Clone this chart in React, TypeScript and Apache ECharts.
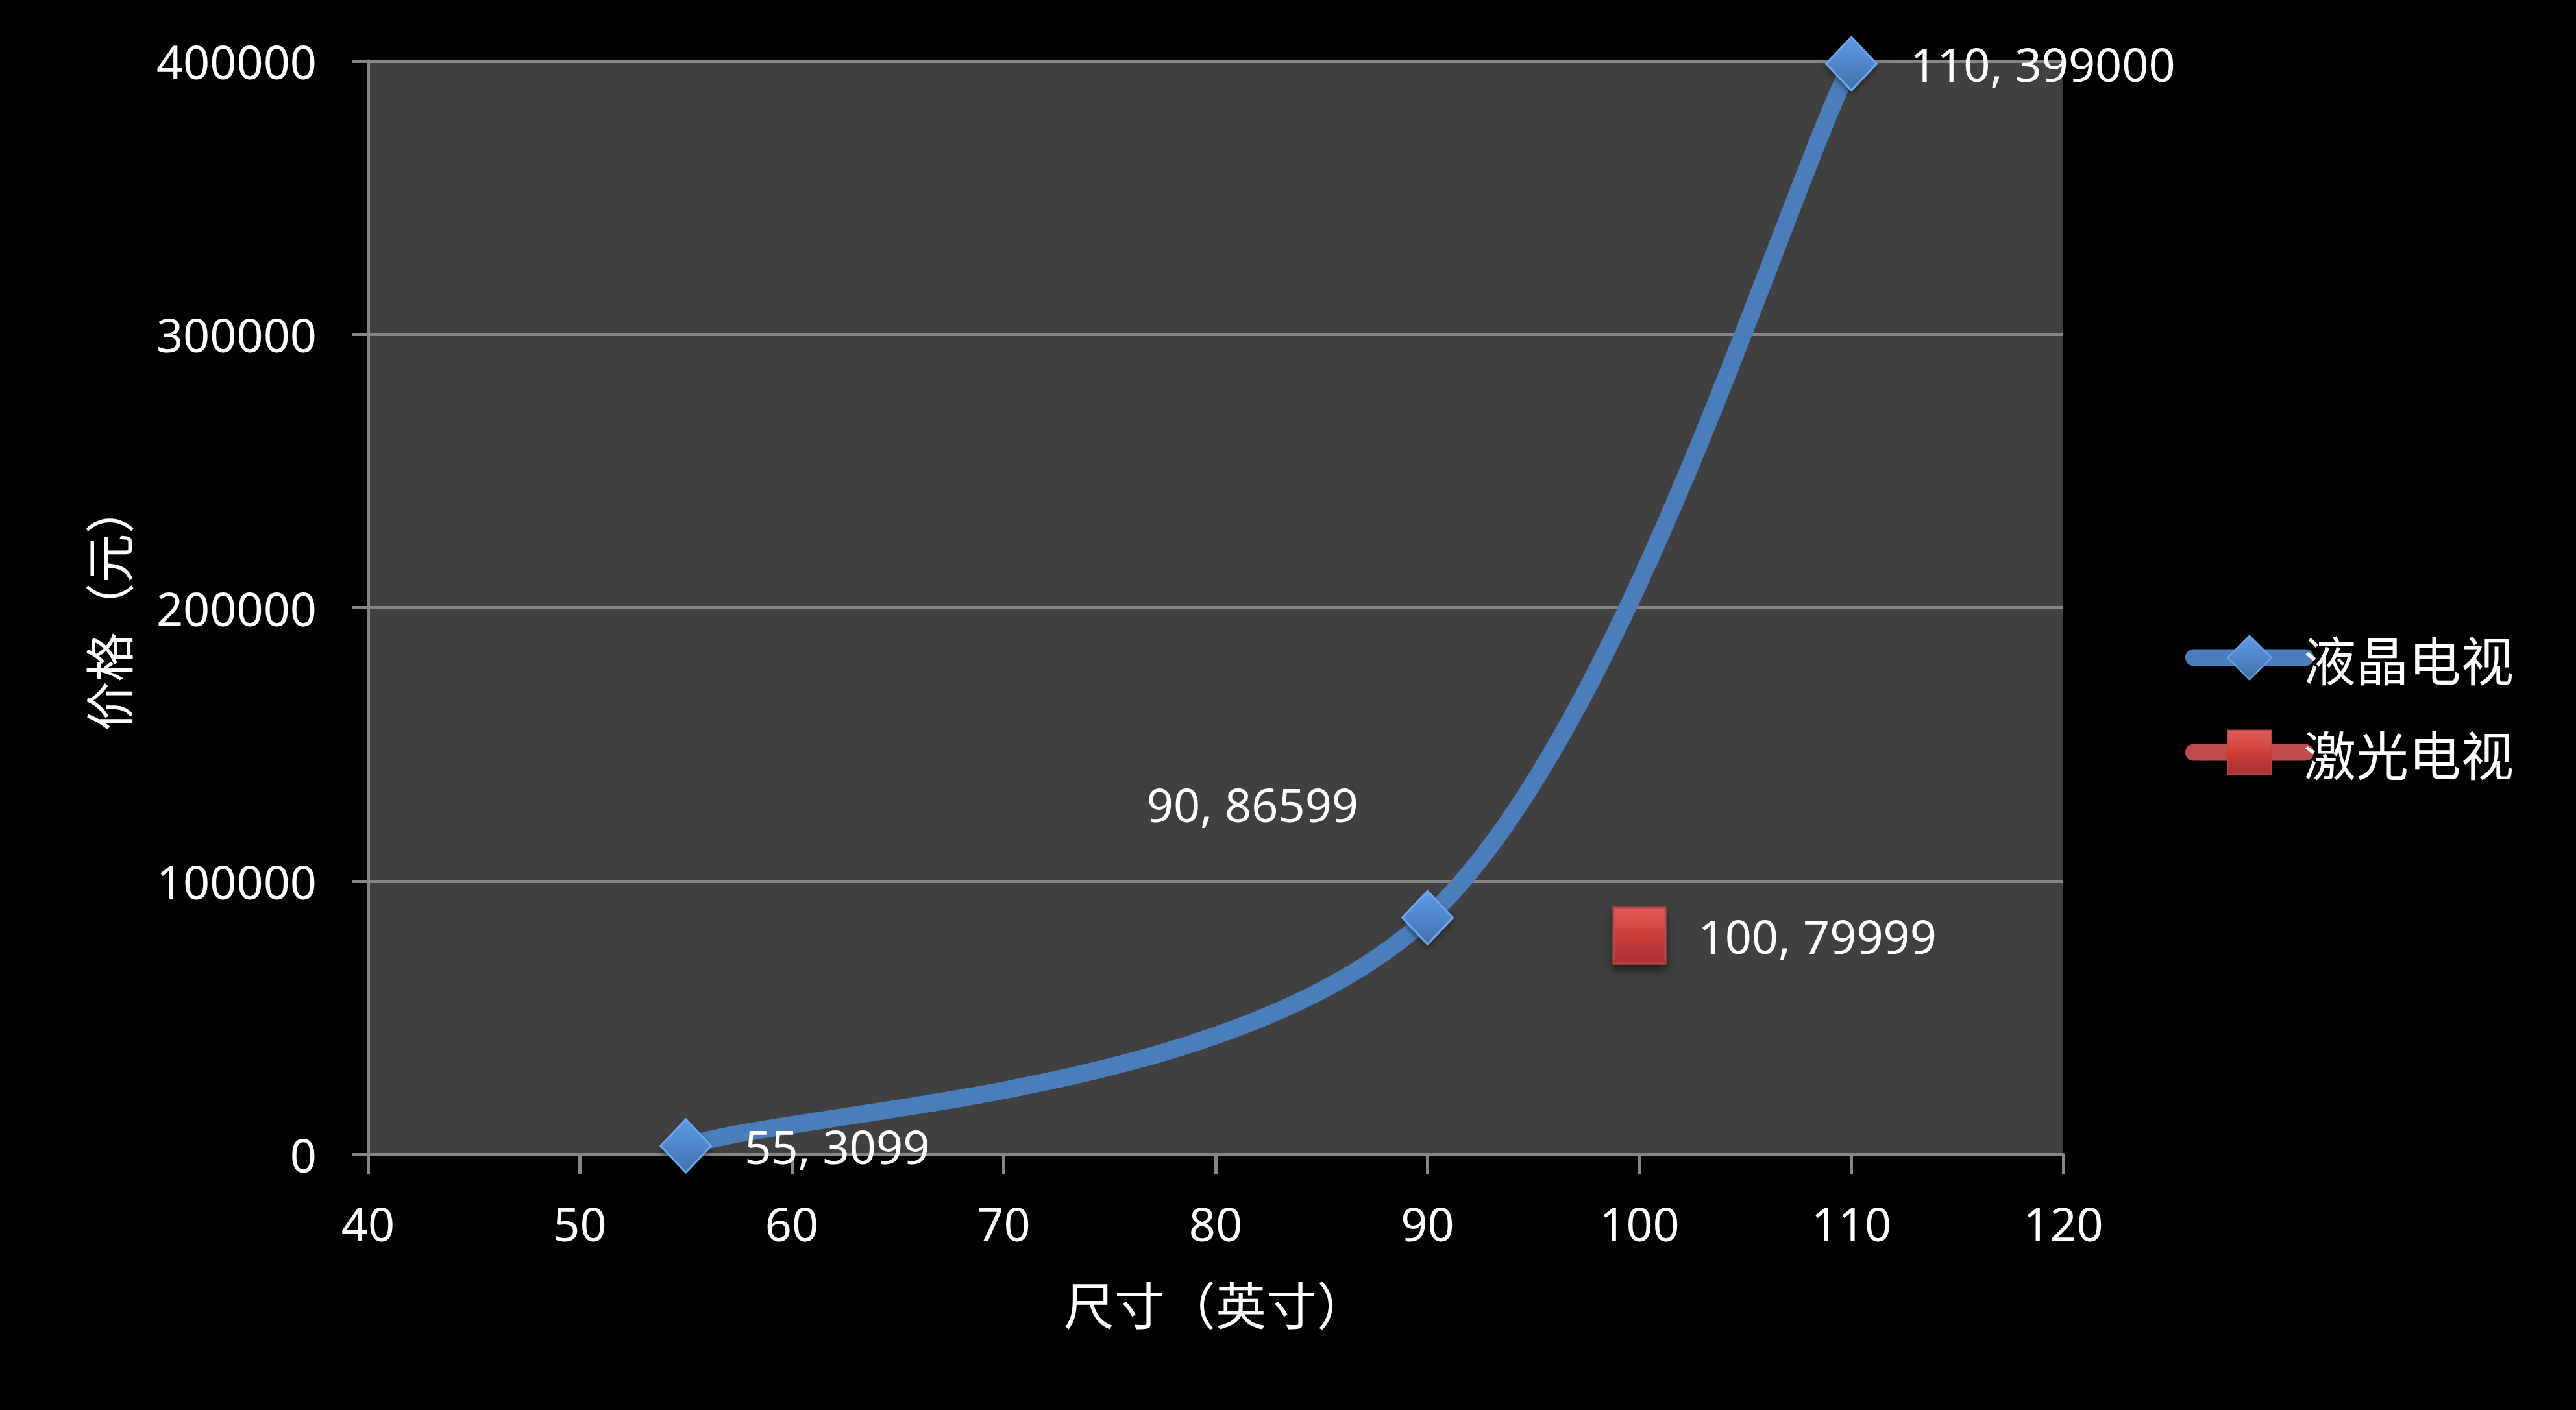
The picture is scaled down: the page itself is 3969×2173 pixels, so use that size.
import React, { useEffect, useRef } from "react";
import * as echarts from "echarts";

// 尺寸 / 价格 data
const lcdSizes = [55, 90, 110];
const lcdPrices = [3099, 86599, 399000];
const laserSizes = [100];
const laserPrices = [79999];
const seriesNames = ["液晶电视", "激光电视"];

const LATIN = "Noto Sans";
const CJK = "Noto Sans CJK SC";
const GRID_GREY = "#868686";
const BLUE = "#4A7EBB";
const RED = "#BE4B48";

const pairs = (xs: number[], ys: number[]) => xs.map((x, i) => [x, ys[i]]);

// Excel-like smoothed line: cubic bezier, tangents = (next - prev) / 6
function smoothPath(pts: number[][]) {
    let d = `M${pts[0][0]},${pts[0][1]}`;
    for (let i = 0; i < pts.length - 1; i++) {
        const p0 = pts[Math.max(i - 1, 0)];
        const p1 = pts[i];
        const p2 = pts[i + 1];
        const p3 = pts[Math.min(i + 2, pts.length - 1)];
        const c1 = [p1[0] + (p2[0] - p0[0]) / 6, p1[1] + (p2[1] - p0[1]) / 6];
        const c2 = [p2[0] - (p3[0] - p1[0]) / 6, p2[1] - (p3[1] - p1[1]) / 6];
        d += ` C${c1[0]},${c1[1]} ${c2[0]},${c2[1]} ${p2[0]},${p2[1]}`;
    }
    return d;
}

export default function App() {
    const ref = useRef<HTMLDivElement | null>(null);

    useEffect(() => {
        if (!ref.current) return;
        const inst = echarts.init(ref.current, null, { renderer: "svg" });

        const labelBase = {
            show: true,
            color: "#ffffff",
            fontFamily: LATIN,
            fontSize: 72,
            formatter: (p: any) => `${p.value[0]}, ${p.value[1]}`,
        };

        const lcdData = pairs(lcdSizes, lcdPrices).map((v, i) =>
            i === 1
                ? { value: v, label: { position: "left", distance: 66, offset: [0, -175] } }
                : { value: v }
        );

        const option: echarts.EChartsOption = {
            animation: false,
            backgroundColor: "#000000",
            grid: {
                show: true,
                left: 567,
                right: 790,
                top: 94,
                bottom: 394,
                backgroundColor: "#404040",
                borderWidth: 0,
            },
            xAxis: {
                type: "value",
                min: 40,
                max: 120,
                interval: 10,
                name: "尺寸（英寸）",
                nameLocation: "middle",
                nameGap: 190,
                nameTextStyle: { color: "#ffffff", fontFamily: CJK, fontSize: 78 },
                axisLine: { show: true, lineStyle: { color: GRID_GREY, width: 5 } },
                axisTick: { show: true, length: 30, lineStyle: { color: GRID_GREY, width: 5 } },
                axisLabel: { color: "#ffffff", fontFamily: LATIN, fontSize: 72, margin: 70 },
                splitLine: { show: false },
            },
            yAxis: {
                type: "value",
                min: 0,
                max: 400000,
                interval: 100000,
                name: "价格（元）",
                nameLocation: "middle",
                nameGap: 364,
                nameTextStyle: { color: "#ffffff", fontFamily: CJK, fontSize: 76 },
                axisLine: { show: true, lineStyle: { color: GRID_GREY, width: 5 } },
                axisTick: { show: true, length: 25, lineStyle: { color: GRID_GREY, width: 5 } },
                axisLabel: {
                    color: "#ffffff",
                    fontFamily: LATIN,
                    fontSize: 72,
                    margin: 79,
                    formatter: (v: number) => String(v),
                },
                splitLine: { show: true, lineStyle: { color: GRID_GREY, width: 5 } },
            },
            legend: {
                orient: "vertical",
                left: 3362,
                top: "middle",
                itemWidth: 172,
                itemHeight: 85,
                itemGap: 65,
                data: seriesNames,
                lineStyle: { width: 26, opacity: 1, cap: "round" },
                textStyle: {
                    color: "#ffffff",
                    fontFamily: CJK,
                    fontSize: 81,
                    lineHeight: 81,
                    padding: [0, 0, 0, -8],
                },
            },
            series: [
                {
                    name: "液晶电视曲线",
                    type: "custom",
                    data: pairs(lcdSizes, lcdPrices),
                    z: 2,
                    silent: true,
                    renderItem: (params: any, api: any) => {
                        if (params.dataIndex !== 0) return { type: "group", children: [] };
                        const pts = lcdSizes.map((x, i) => api.coord([x, lcdPrices[i]]));
                        return {
                            type: "path",
                            shape: { pathData: smoothPath(pts) },
                            style: { fill: "none", stroke: BLUE, lineWidth: 27, lineCap: "round" },
                        };
                    },
                } as any,
                {
                    name: seriesNames[0],
                    type: "line",
                    data: lcdData as any,
                    symbol: "diamond",
                    symbolSize: [78, 82],
                    lineStyle: { color: BLUE, width: 26, cap: "round", opacity: 0 },
                    itemStyle: {
                        color: new echarts.graphic.LinearGradient(0, 0, 0, 1, [
                            { offset: 0, color: "#5E9BE6" },
                            { offset: 0.5, color: "#4F86CC" },
                            { offset: 1, color: "#3D6DA8" },
                        ]),
                        borderColor: "#6EA6EA",
                        borderWidth: 3,
                        shadowBlur: 8,
                        shadowColor: "rgba(0,0,0,0.5)",
                        shadowOffsetY: 4,
                    },
                    label: { ...labelBase, position: "right", distance: 50 },
                    z: 3,
                },
                {
                    name: seriesNames[1],
                    type: "line",
                    data: pairs(laserSizes, laserPrices),
                    symbol: "rect",
                    symbolSize: [80, 86],
                    lineStyle: { color: RED, width: 26, cap: "round" },
                    itemStyle: {
                        color: new echarts.graphic.LinearGradient(0, 0, 0, 1, [
                            { offset: 0, color: "#E25C59" },
                            { offset: 0.5, color: "#CC3E3B" },
                            { offset: 1, color: "#A8312F" },
                        ]),
                        borderColor: "#B84744",
                        borderWidth: 3,
                        shadowBlur: 14,
                        shadowColor: "rgba(0,0,0,0.6)",
                        shadowOffsetY: 8,
                    },
                    label: { ...labelBase, position: "right", distance: 49 },
                    z: 3,
                },
            ],
        };

        inst.setOption(option);
        return () => {
            inst.dispose();
        };
    }, []);

    return (
        <div
            ref={ref}
            style={{ position: "fixed", left: 0, top: 0, width: 3969, height: 2173, background: "#000" }}
        />
    );
}
